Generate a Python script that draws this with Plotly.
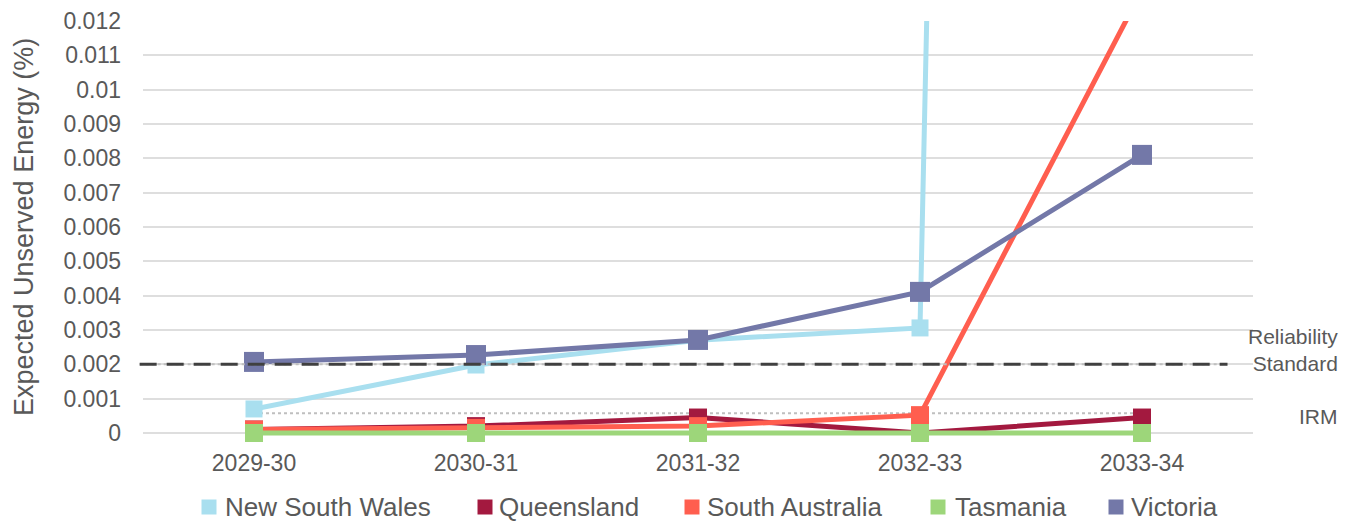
import plotly.graph_objects as go

# Financial years on the horizontal axis
years = ["2029-30", "2030-31", "2031-32", "2032-33", "2033-34"]

# Expected unserved energy (% of regional demand) by region
nsw = [0.0007, 0.00198, 0.0027, 0.00306, 0.30]
qld = [0.0001, 0.0002, 0.00045, 0.0, 0.00045]
sa = [0.0001, 0.00015, 0.0002, 0.00052, 0.0129]
tas = [0.0, 0.0, 0.0, 0.0, 0.0]
vic = [0.00207, 0.00227, 0.00271, 0.00411, 0.0081]

reliability_standard = 0.002
irm = 0.000574

y_ticks = [0, 0.001, 0.002, 0.003, 0.004, 0.005, 0.006, 0.007, 0.008,
           0.009, 0.01, 0.011, 0.012]
y_tick_text = ["0", "0.001", "0.002", "0.003", "0.004", "0.005", "0.006",
               "0.007", "0.008", "0.009", "0.01", "0.011", "0.012"]

series = [
    ("New South Wales", nsw, "#A9DFEF", 17),
    ("Queensland", qld, "#A3193F", 18),
    ("South Australia", sa, "#FF5E4F", 18),
    ("Tasmania", tas, "#9DD67A", 18),
    ("Victoria", vic, "#7378A8", 20),
]

# Legend layout: swatch centre and label start (in pixels across the page)
legend_swatch_px = [209, 485, 692, 938, 1116]
legend_text_px = [223, 497, 705, 953, 1129]
legend_y_px = 507

W, H = 1356, 522
# a little room below zero so lines lying on the axis keep their full width
Y_MIN, Y_MAX = -0.000117, 0.012
ML, MR, MT, MB = 143, 103, 21, 85
PW, PH = W - ML - MR, H - MT - MB


def px_to_paper_x(px):
    return (px - ML) / PW


def px_to_paper_y(py):
    return (H - MB - py) / PH


FONT = "Liberation Sans, Arial, sans-serif"
GREY = "#595959"

fig = go.Figure()

# IRM reference line
fig.add_trace(go.Scatter(
    x=years, y=[irm] * len(years), mode="lines",
    line=dict(color="#BFBFBF", width=2, dash="dot"),
    showlegend=False, hoverinfo="skip"))

for name, vals, color, msize in series:
    fig.add_trace(go.Scatter(
        x=years, y=vals, mode="lines+markers", name=name,
        line=dict(color=color, width=5),
        marker=dict(symbol="square", size=msize, color=color),
        cliponaxis=False, showlegend=False))

# Reliability standard line
fig.add_shape(type="line", xref="paper", yref="y",
              x0=-0.003, x1=0.977, y0=reliability_standard, y1=reliability_standard,
              line=dict(color="#BFBFBF", width=2, dash="dot"))
fig.add_shape(type="line", xref="paper", yref="y",
              x0=-0.003, x1=0.977, y0=reliability_standard, y1=reliability_standard,
              line=dict(color="#404040", width=3, dash="17px,10px"))

fig.add_annotation(xref="paper", yref="paper", x=px_to_paper_x(1340),
                   y=px_to_paper_y(350),
                   text="Reliability<br>Standard", showarrow=False,
                   xanchor="right", yanchor="middle", align="right",
                   font=dict(family=FONT, size=21, color=GREY))
fig.add_annotation(xref="paper", yref="paper", x=px_to_paper_x(1340),
                   y=px_to_paper_y(416),
                   text="IRM", showarrow=False, xanchor="right", yanchor="middle",
                   font=dict(family=FONT, size=21, color=GREY))

# Axis title
fig.add_annotation(xref="paper", yref="paper", x=px_to_paper_x(24),
                   y=px_to_paper_y(227),
                   text="Expected Unserved Energy (%)", showarrow=False,
                   textangle=-90, xanchor="center", yanchor="middle",
                   font=dict(family=FONT, size=27, color=GREY))

# Legend: square swatches with labels beneath the plot
for (name, vals, color, msize), sx, tx in zip(series, legend_swatch_px, legend_text_px):
    cx, cy = px_to_paper_x(sx), px_to_paper_y(legend_y_px)
    hw, hh = 7.5 / PW, 7.5 / PH
    fig.add_shape(type="rect", xref="paper", yref="paper",
                  x0=cx - hw, x1=cx + hw, y0=cy - hh, y1=cy + hh,
                  line=dict(width=0), fillcolor=color)
    fig.add_annotation(xref="paper", yref="paper", x=px_to_paper_x(tx), y=cy,
                       text=name, showarrow=False, xanchor="left",
                       yanchor="middle",
                       font=dict(family=FONT, size=26, color=GREY))

fig.update_layout(
    width=W, height=H,
    margin=dict(l=ML, r=MR, t=MT, b=MB),
    paper_bgcolor="white", plot_bgcolor="white",
    font=dict(family=FONT, size=23, color=GREY),
    showlegend=False,
    xaxis=dict(type="category", range=[-0.5, 4.5], showgrid=False,
               showline=False, ticks="", ticklabelstandoff=10,
               automargin=False, tickfont=dict(size=23, color=GREY)),
    yaxis=dict(range=[Y_MIN, Y_MAX], tickvals=y_ticks, ticktext=y_tick_text,
               showgrid=True, gridcolor="#DEDEDE", gridwidth=2,
               zeroline=False, showline=False, ticks="", ticklabelstandoff=21,
               automargin=False, tickfont=dict(size=23, color=GREY)),
)

fig.write_html("out.html")
